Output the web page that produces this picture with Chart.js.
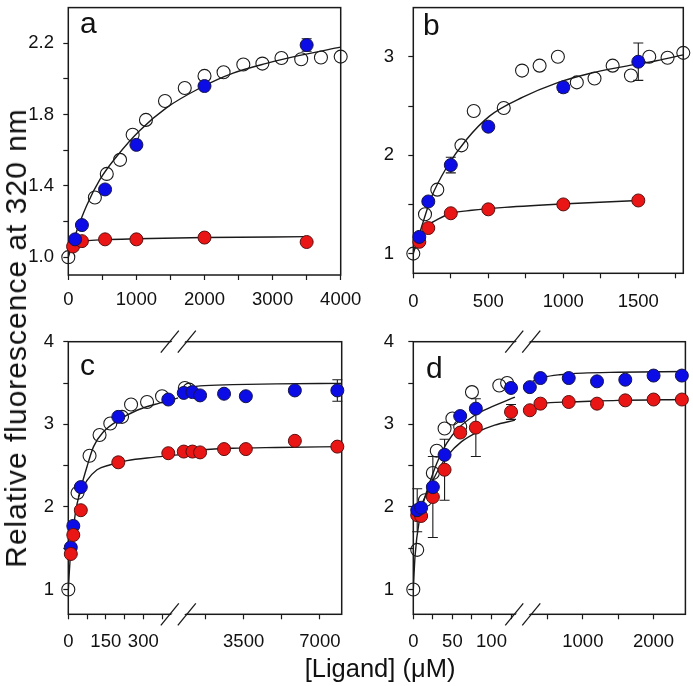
<!DOCTYPE html>
<html>
<head>
<meta charset="utf-8">
<script src="https://cdn.jsdelivr.net/npm/chart.js@4.4.1/dist/chart.umd.min.js"></script>
<style>
html, body { margin: 0; padding: 0; background: #fff; }
#wrap { position: relative; width: 693px; height: 686px; overflow: hidden; font-family: "Liberation Sans", Arial, sans-serif; color: #111; }
#wrap canvas { position: absolute; left: 0; top: 0; }
.ytitle { position: absolute; left: 15.5px; top: 338px; font-size: 30px; letter-spacing: 1px; line-height: 1; white-space: nowrap; transform: translate(-50%, -50%) rotate(-90deg); }
.xtitle { position: absolute; left: 380px; top: 656px; font-size: 25.5px; line-height: 1; white-space: nowrap; transform: translateX(-50%); }
</style>
</head>
<body>
<div id="wrap">
  <canvas id="pa" width="693" height="686"></canvas>
  <canvas id="pb" width="693" height="686"></canvas>
  <canvas id="pc" width="693" height="686"></canvas>
  <canvas id="pd" width="693" height="686"></canvas>
  <div class="ytitle">Relative fluorescence at 320 nm</div>
  <div class="xtitle">[Ligand] (μM)</div>
</div>
<script>
// ---- panel a ----
const A_OPEN_X = [0, 390, 565, 760, 945, 1140, 1420, 1710, 2000, 2280, 2570, 2850, 3130, 3420, 3710, 4000]
const A_OPEN_Y = [1.0, 1.335, 1.467, 1.546, 1.687, 1.77, 1.876, 1.949, 2.017, 2.037, 2.081, 2.086, 2.117, 2.11, 2.12, 2.125]
const A_BLUE_X = [100, 200, 540, 1000, 2000, 3500]
const A_BLUE_Y = [1.10, 1.18, 1.38, 1.63, 1.96, 2.19]
const A_BLUE_ERR = [0, 0, 0, 0, 0, 0.035]
const A_RED_X = [70, 200, 540, 1000, 2000, 3500]
const A_RED_Y = [1.06, 1.09, 1.10, 1.10, 1.11, 1.085]
const A_FIT1_X = [0, 120, 270, 465, 710, 1050, 1445, 1935, 2420, 2910, 3400, 4000]
const A_FIT1_Y = [1.0, 1.143, 1.29, 1.436, 1.565, 1.711, 1.839, 1.949, 2.032, 2.087, 2.132, 2.178]
const A_FIT2_X = [0, 100, 250, 540, 1000, 2000, 3500]
const A_FIT2_Y = [1.02, 1.07, 1.09, 1.098, 1.103, 1.11, 1.115]
const A_Y_TICKS = [1.0, 1.2, 1.4, 1.6, 1.8, 2.0, 2.2]
const A_Y_LABELS = [1.0, 1.4, 1.8, 2.2]
const A_X_TICKS = [0, 500, 1000, 1500, 2000, 2500, 3000, 3500, 4000]
const A_X_LABELS = [0, 1000, 2000, 3000, 4000]

// ---- panel b ----
const B_OPEN_X = [0, 78, 160, 321, 403, 603, 725, 842, 964, 1090, 1208, 1329, 1451, 1573, 1695, 1800]
const B_OPEN_Y = [1.0, 1.40, 1.65, 2.10, 2.45, 2.48, 2.86, 2.91, 3.00, 2.74, 2.78, 2.91, 2.81, 3.00, 2.99, 3.04]
const B_BLUE_X = [40, 100, 250, 500, 1000, 1500]
const B_BLUE_Y = [1.17, 1.53, 1.90, 2.29, 2.69, 2.95]
const B_BLUE_ERR = [0, 0, 0.08, 0, 0.05, 0.19]
const B_RED_X = [40, 100, 250, 500, 1000, 1500]
const B_RED_Y = [1.12, 1.26, 1.41, 1.45, 1.50, 1.54]
const B_FIT1_X = [0, 55, 120, 220, 355, 510, 730, 950, 1175, 1400, 1620, 1800]
const B_FIT1_Y = [1.0, 1.27, 1.57, 1.87, 2.16, 2.40, 2.59, 2.73, 2.83, 2.90, 2.96, 3.02]
const B_FIT2_X = [10, 40, 80, 165, 255, 390, 610, 1060, 1500]
const B_FIT2_Y = [1.05, 1.14, 1.26, 1.35, 1.41, 1.44, 1.47, 1.51, 1.54]
const B_Y_TICKS = [1, 1.5, 2, 2.5, 3]
const B_Y_LABELS = [1, 2, 3]
const B_X_TICKS = [0, 250, 500, 750, 1000, 1250, 1500, 1750]
const B_X_LABELS = [0, 500, 1000, 1500]

// ---- panel c (broken x axis) ----
const C_OPEN_X = [0, 37, 85, 125, 168, 215, 251, 315, 375, 800, 1000]
const C_OPEN_Y = [1.0, 2.17, 2.62, 2.87, 3.01, 3.09, 3.24, 3.27, 3.34, 3.44, 3.42]
const C_BLUE_X = [10, 20, 50, 200, 400, 750, 1150, 1500, 2600, 3600, 5850, 7800]
const C_BLUE_Y = [1.51, 1.77, 2.24, 3.09, 3.30, 3.38, 3.39, 3.35, 3.37, 3.34, 3.41, 3.41]
const C_BLUE_ERR = [0, 0, 0, 0, 0, 0, 0, 0, 0, 0, 0, 0.13]
const C_RED_X = [10, 20, 50, 200, 400, 750, 1150, 1500, 2600, 3600, 5850, 7800]
const C_RED_Y = [1.43, 1.66, 1.96, 2.54, 2.65, 2.67, 2.67, 2.66, 2.70, 2.70, 2.80, 2.73]
const C_RED_ERR = [0, 0, 0, 0.05, 0, 0, 0, 0, 0, 0, 0, 0]
const C_FIT1_X = [0, 8, 28, 48, 75, 101, 141, 201, 275, 368, 440, 800, 1500, 3000, 5000, 8000]
const C_FIT1_Y = [1.0, 1.39, 1.92, 2.20, 2.49, 2.73, 2.91, 3.05, 3.17, 3.26, 3.32, 3.44, 3.465, 3.48, 3.49, 3.495]
const C_FIT2_X = [40, 75, 115, 168, 235, 341, 440, 750, 1500, 3000, 5000, 8000]
const C_FIT2_Y = [2.12, 2.32, 2.45, 2.51, 2.56, 2.60, 2.63, 2.67, 2.69, 2.71, 2.72, 2.73]
const C_Y_TICKS = [1, 1.5, 2, 2.5, 3, 3.5, 4]
const C_Y_LABELS = [1, 2, 3, 4]
const C_X1_TICKS = [0, 75, 150, 225, 300, 375]
const C_X1_LABELS = [0, 150, 300]
const C_X2_TICKS = [1750, 3500, 5250, 7000]
const C_X2_LABELS = [3500, 7000]

// ---- panel d (broken x axis) ----
const D_OPEN_X = [0, 5, 15, 25, 30, 40, 50, 60, 75, 110, 120]
const D_OPEN_Y = [1.0, 1.48, 2.08, 2.41, 2.68, 2.95, 3.07, 2.97, 3.39, 3.47, 3.50]
const D_BLUE_X = [5, 10, 25, 40, 60, 80, 125, 250, 400, 800, 1200, 1600, 2000, 2400]
const D_BLUE_Y = [1.96, 1.99, 2.24, 2.63, 3.10, 3.19, 3.44, 3.45, 3.56, 3.56, 3.52, 3.54, 3.59, 3.59]
const D_BLUE_ERR = [0.26, 0, 0, 0, 0, 0, 0, 0, 0, 0, 0, 0, 0, 0]
const D_RED_X = [5, 10, 25, 40, 60, 80, 125, 250, 400, 800, 1200, 1600, 2000, 2400]
const D_RED_Y = [1.90, 1.89, 2.12, 2.45, 2.90, 2.96, 3.15, 3.17, 3.25, 3.27, 3.25, 3.29, 3.30, 3.30]
const D_RED_ERR = [0, 0, 0.49, 0.37, 0, 0.35, 0.09, 0, 0, 0, 0, 0, 0, 0]
const D_FIT1_X = [0, 2.2, 8.5, 15, 23.4, 32, 42.6, 57.4, 78.7, 100, 130, 290, 450, 670, 1000, 1500, 2450]
const D_FIT1_Y = [1.0, 1.40, 1.88, 2.12, 2.36, 2.57, 2.77, 2.95, 3.11, 3.21, 3.33, 3.52, 3.57, 3.60, 3.62, 3.63, 3.64]
const D_FIT2_X = [5, 12, 21, 32, 44.6, 61.7, 83, 104, 130, 250, 410, 800, 1500, 2450]
const D_FIT2_Y = [1.92, 2.06, 2.24, 2.45, 2.63, 2.79, 2.91, 2.99, 3.05, 3.18, 3.25, 3.27, 3.29, 3.30]
const D_Y_TICKS = [1, 1.5, 2, 2.5, 3, 3.5, 4]
const D_Y_LABELS = [1, 2, 3, 4]
const D_X1_TICKS = [0, 25, 50, 75, 100, 125]
const D_X1_LABELS = [0, 50, 100]
const D_X2_TICKS = [500, 1000, 1500, 2000]
const D_X2_LABELS = [1000, 2000]

const INK = '#1a1a1a'
const BLUE = '#0c0ce6', BLUE_EDGE = '#14144a'
const RED = '#ea1616', RED_EDGE = '#5a1010'
const TICK_FONT = { family: 'Liberation Sans, Arial, sans-serif', size: 18.5 }
// fixed axis box sizes (labels are clipped to these boxes, so keep them roomy)
const YW = 60, XH = 45

function pts(xs, ys, errs, lo, hi) {
  const out = []
  xs.forEach((x, i) => {
    if (x >= lo && x <= hi) out.push({ x, y: ys[i], err: errs ? errs[i] : 0 })
  })
  return out
}

const framePlugin = {
  id: 'frame',
  beforeDatasetsDraw(chart) {
    const a = chart.chartArea, ctx = chart.ctx
    ctx.save()
    ctx.strokeStyle = INK
    ctx.lineWidth = 1.5
    ctx.strokeRect(a.left, a.top, a.right - a.left, a.bottom - a.top)
    // error bars, under the markers
    ctx.lineWidth = 1.1
    chart.data.datasets.forEach(ds => {
      const xs = chart.scales[ds.xAxisID], ys = chart.scales.y
      ds.data.forEach(p => {
        if (!p.err) return
        const px = xs.getPixelForValue(p.x)
        const y1 = ys.getPixelForValue(p.y + p.err), y2 = ys.getPixelForValue(p.y - p.err)
        ctx.beginPath()
        ctx.moveTo(px, y1); ctx.lineTo(px, y2)
        ctx.moveTo(px - 5, y1); ctx.lineTo(px + 5, y1)
        ctx.moveTo(px - 5, y2); ctx.lineTo(px + 5, y2)
        ctx.stroke()
      })
    })
    ctx.restore()
  },
  afterDraw(chart) {
    const opts = chart.options.plugins.frame
    const a = chart.chartArea, ctx = chart.ctx
    ctx.save()
    ctx.fillStyle = '#111'
    ctx.font = '30px "Liberation Sans", Arial, sans-serif'
    ctx.textBaseline = 'alphabetic'
    ctx.fillText(opts.letter, opts.lx, opts.ly)
    if (chart.scales.x2) {
      const bx = chart.scales.x2.left
      ;[a.top, a.bottom].forEach(y => {
        ctx.strokeStyle = '#fff'
        ctx.lineWidth = 10
        ctx.beginPath(); ctx.moveTo(bx - 8, y + 9); ctx.lineTo(bx + 8, y - 9); ctx.stroke()
        ctx.strokeStyle = INK
        ctx.lineWidth = 1.3
        ;[-8.5, 8.5].forEach(d => {
          ctx.beginPath()
          ctx.moveTo(bx + d - 9, y + 11)
          ctx.lineTo(bx + d + 9, y - 11)
          ctx.stroke()
        })
      })
    }
    ctx.restore()
  }
}

function makePanel(id, P) {
  const scales = {}
  P.segs.forEach(s => {
    scales[s.id] = {
      type: 'linear', position: 'bottom', min: s.min, max: s.max,
      stack: P.segs.length > 1 ? 'xb' : undefined, stackWeight: s.weight,
      grid: { display: true, drawOnChartArea: false, drawTicks: true, tickLength: 5, tickColor: INK, tickWidth: 1.2 },
      border: { display: false },
      ticks: {
        autoSkip: false, maxRotation: 0, minRotation: 0, padding: P.xPad, color: '#111', font: TICK_FONT,
        callback: v => s.labels.includes(v) ? String(v) : ''
      },
      afterBuildTicks: sc => { sc.ticks = s.ticks.map(v => ({ value: v })) },
      afterFit: sc => { sc.height = XH; sc.paddingLeft = 0; sc.paddingRight = 0 }
    }
  })
  scales.y = {
    type: 'linear', position: 'left', min: P.yMin, max: P.yMax,
    grid: { display: true, drawOnChartArea: false, drawTicks: true, tickLength: 5, tickColor: INK, tickWidth: 1.2 },
    border: { display: false },
    ticks: {
      autoSkip: false, padding: P.yPad, color: '#111', font: TICK_FONT,
      callback: v => P.yLabels.includes(v) ? (P.yDec ? v.toFixed(P.yDec) : String(v)) : ''
    },
    afterBuildTicks: sc => { sc.ticks = P.yTicks.map(v => ({ value: v })) },
    afterFit: sc => { sc.width = YW; sc.paddingTop = 0; sc.paddingBottom = 0 }
  }

  const datasets = []
  P.segs.forEach(s => {
    datasets.push({
      data: pts(P.openX, P.openY, null, s.min, s.max), xAxisID: s.id, order: 6,
      pointRadius: 6.5, pointBackgroundColor: 'rgba(0,0,0,0)', pointBorderColor: INK, pointBorderWidth: 1.1, clip: 10
    })
    P.fits.forEach(f => datasets.push({
      data: pts(f[0], f[1], null, s.min, s.max), xAxisID: s.id, order: 5, showLine: true,
      pointRadius: 0, borderColor: INK, borderWidth: 1.4, cubicInterpolationMode: 'monotone'
    }))
    datasets.push({
      data: pts(P.redX, P.redY, P.redErr, s.min, s.max), xAxisID: s.id, order: P.redOnTop ? 2 : 3,
      pointRadius: 6.5, pointBackgroundColor: RED, pointBorderColor: RED_EDGE, pointBorderWidth: 1, clip: 10
    })
    datasets.push({
      data: pts(P.blueX, P.blueY, P.blueErr, s.min, s.max), xAxisID: s.id, order: P.redOnTop ? 3 : 2,
      pointRadius: 6.5, pointBackgroundColor: BLUE, pointBorderColor: BLUE_EDGE, pointBorderWidth: 1, clip: 10
    })
  })

  const A = P.area
  new Chart(document.getElementById(id), {
    type: 'scatter',
    data: { datasets },
    options: {
      responsive: false, animation: false, events: [],
      layout: { padding: { left: A.left - YW, top: A.top, right: 693 - A.right, bottom: 686 - A.bottom - XH } },
      plugins: { legend: { display: false }, tooltip: { enabled: false }, frame: { letter: P.letter, lx: P.lx, ly: P.ly } },
      scales
    },
    plugins: [framePlugin]
  })
}

makePanel('pa', {
  letter: 'a', lx: 80, ly: 33,
  area: { left: 68.3, top: 1.7, right: 340.7, bottom: 275 },
  yMin: 0.9, yMax: 2.4, yTicks: A_Y_TICKS, yLabels: A_Y_LABELS, yDec: 1, yPad: 9.3, xPad: 8.7,
  segs: [{ id: 'x1', min: 0, max: 4000, weight: 1, ticks: A_X_TICKS, labels: A_X_LABELS }],
  openX: A_OPEN_X, openY: A_OPEN_Y,
  blueX: A_BLUE_X, blueY: A_BLUE_Y, blueErr: A_BLUE_ERR,
  redX: A_RED_X, redY: A_RED_Y, redErr: null,
  fits: [[A_FIT1_X, A_FIT1_Y], [A_FIT2_X, A_FIT2_Y]]
})

makePanel('pb', {
  letter: 'b', lx: 423, ly: 35,
  area: { left: 413.3, top: 1.7, right: 683.3, bottom: 273.3 },
  yMin: 0.8, yMax: 3.5, yTicks: B_Y_TICKS, yLabels: B_Y_LABELS, yDec: 0, yPad: 14.3, xPad: 12.4,
  segs: [{ id: 'x1', min: 0, max: 1800, weight: 1, ticks: B_X_TICKS, labels: B_X_LABELS }],
  openX: B_OPEN_X, openY: B_OPEN_Y,
  blueX: B_BLUE_X, blueY: B_BLUE_Y, blueErr: B_BLUE_ERR,
  redX: B_RED_X, redY: B_RED_Y, redErr: null,
  fits: [[B_FIT1_X, B_FIT1_Y], [B_FIT2_X, B_FIT2_Y]]
})

makePanel('pc', {
  letter: 'c', lx: 80, ly: 375, redOnTop: true,
  area: { left: 68.3, top: 341.7, right: 341.7, bottom: 614.3 },
  yMin: 0.7, yMax: 4, yTicks: C_Y_TICKS, yLabels: C_Y_LABELS, yDec: 0, yPad: 9.3, xPad: 11.4,
  segs: [
    { id: 'x1', min: 0, max: 440, weight: 110, ticks: C_X1_TICKS, labels: C_X1_LABELS },
    { id: 'x2', min: 500, max: 8000, weight: 163.4, ticks: C_X2_TICKS, labels: C_X2_LABELS }
  ],
  openX: C_OPEN_X, openY: C_OPEN_Y,
  blueX: C_BLUE_X, blueY: C_BLUE_Y, blueErr: C_BLUE_ERR,
  redX: C_RED_X, redY: C_RED_Y, redErr: C_RED_ERR,
  fits: [[C_FIT1_X, C_FIT1_Y], [C_FIT2_X, C_FIT2_Y]]
})

makePanel('pd', {
  letter: 'd', lx: 426, ly: 378,
  area: { left: 413.3, top: 341.7, right: 686, bottom: 614.3 },
  yMin: 0.7, yMax: 4, yTicks: D_Y_TICKS, yLabels: D_Y_LABELS, yDec: 0, yPad: 14.3, xPad: 11.4,
  segs: [
    { id: 'x1', min: 0, max: 140, weight: 109.7, ticks: D_X1_TICKS, labels: D_X1_LABELS },
    { id: 'x2', min: 150, max: 2450, weight: 163, ticks: D_X2_TICKS, labels: D_X2_LABELS }
  ],
  openX: D_OPEN_X, openY: D_OPEN_Y,
  blueX: D_BLUE_X, blueY: D_BLUE_Y, blueErr: D_BLUE_ERR,
  redX: D_RED_X, redY: D_RED_Y, redErr: D_RED_ERR,
  fits: [[D_FIT1_X, D_FIT1_Y], [D_FIT2_X, D_FIT2_Y]]
})
</script>
</body>
</html>
